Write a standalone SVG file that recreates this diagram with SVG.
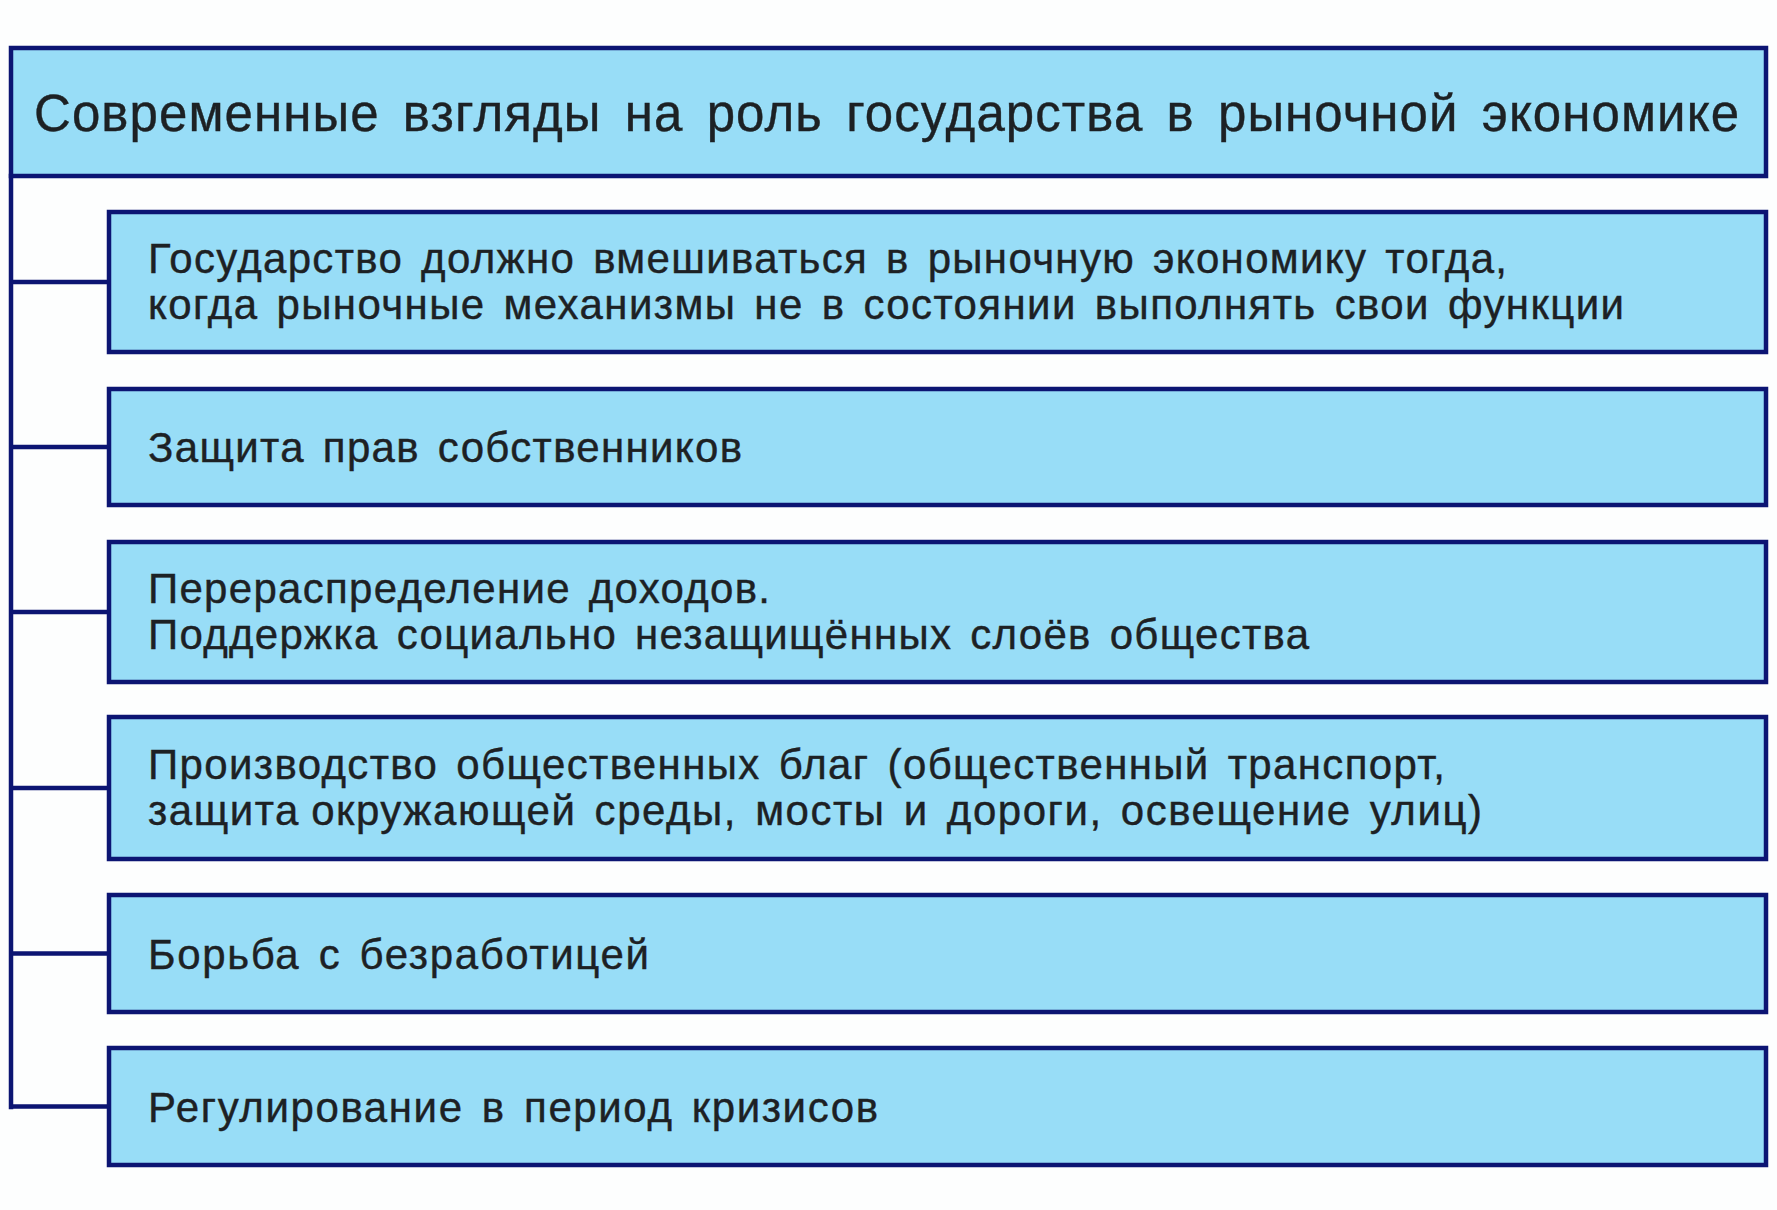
<svg xmlns="http://www.w3.org/2000/svg" width="1777" height="1210" viewBox="0 0 1777 1210">
<style>
.box{fill:#98DDF7;stroke:#0C1573;stroke-width:4.5}
.conn{stroke:#0C1573;stroke-width:4.5;fill:none;stroke-linecap:square}
.t{font-family:"Liberation Sans","Noto Sans",Arial,sans-serif;fill:#1d2124;stroke:#1d2124;stroke-width:0.4;font-size:42px;word-spacing:5px}
.title{font-family:"Liberation Sans","Noto Sans",Arial,sans-serif;fill:#1d2124;stroke:#1d2124;stroke-width:0.4;font-size:51px;word-spacing:8px}
</style>
<rect width="1777" height="1210" fill="#FDFEFE"/>
<g id="connectors">
<path class="conn" d="M11,176 V1107 M11,282 H109 M11,447 H109 M11,612 H109 M11,788 H109 M11,953.5 H109 M11,1106.5 H109"/>
</g>
<g id="title">
<rect class="box" x="11" y="48" width="1755" height="128"/>
<text class="title" x="34" y="131" textLength="1705" lengthAdjust="spacing">Современные взгляды на роль государства в рыночной экономике</text>
</g>
<g id="node1">
<rect class="box" x="109" y="212" width="1657" height="140"/>
<text class="t" x="148" y="273" textLength="1359" lengthAdjust="spacing">Государство должно вмешиваться в рыночную экономику тогда,</text>
<text class="t" x="148" y="319" textLength="1476" lengthAdjust="spacing">когда рыночные механизмы не в состоянии выполнять свои функции</text>
</g>
<g id="node2">
<rect class="box" x="109" y="389" width="1657" height="116"/>
<text class="t" x="148" y="462" textLength="594" lengthAdjust="spacing">Защита прав собственников</text>
</g>
<g id="node3">
<rect class="box" x="109" y="542" width="1657" height="140"/>
<text class="t" x="148" y="603" textLength="622" lengthAdjust="spacing">Перераспределение доходов.</text>
<text class="t" x="148" y="649" textLength="1161" lengthAdjust="spacing">Поддержка социально незащищённых слоёв общества</text>
</g>
<g id="node4">
<rect class="box" x="109" y="717" width="1657" height="142"/>
<text class="t" x="148" y="779" textLength="1297" lengthAdjust="spacing">Производство общественных благ (общественный транспорт,</text>
<text class="t" x="148" y="825" textLength="1334" lengthAdjust="spacing">защита<tspan dx="-7"> окружающей</tspan> среды, мосты и дороги, освещение улиц)</text>
</g>
<g id="node5">
<rect class="box" x="109" y="895" width="1657" height="117"/>
<text class="t" x="148" y="969" textLength="501" lengthAdjust="spacing">Борьба с безработицей</text>
</g>
<g id="node6">
<rect class="box" x="109" y="1048" width="1657" height="117"/>
<text class="t" x="148" y="1122" textLength="730" lengthAdjust="spacing">Регулирование в период кризисов</text>
</g>
</svg>
